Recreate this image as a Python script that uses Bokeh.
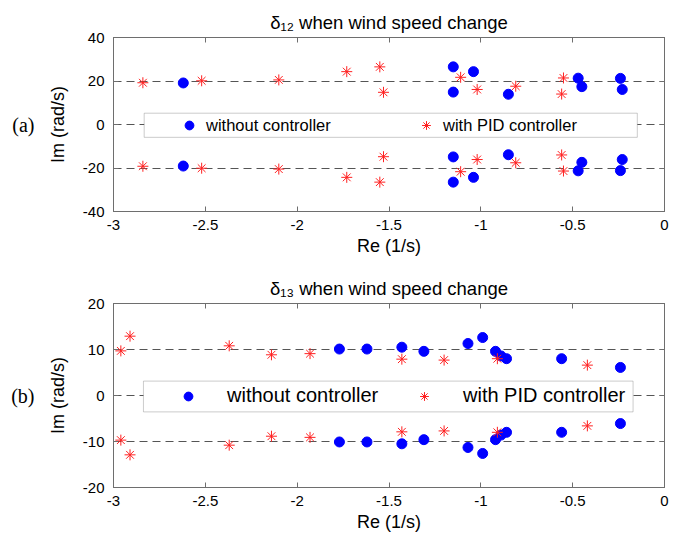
from bokeh.plotting import figure
from bokeh.layouts import column
from bokeh.models import (FixedTicker, CustomJSTickFormatter, Legend, LegendItem,
                          BoxAnnotation, LinearAxis, Range1d)
from bokeh.embed import file_html
from bokeh.resources import INLINE

# ---------------- data (conjugate pairs: real part, |imag part|) ----------------
# (a) delta_12
a_without_re = [-2.62, -1.15, -1.15, -1.04, -0.85, -0.47, -0.45, -0.24, -0.23]
a_without_im = [19.1, 26.5, 14.9, 24.3, 13.9, 21.3, 17.4, 21.2, 16.1]
a_pid_re = [-2.84, -2.52, -2.10, -1.73, -1.55, -1.53, -1.11, -1.02, -0.81, -0.55, -0.56]
a_pid_im = [19.2, 20.1, 20.5, 24.3, 26.5, 14.8, 21.7, 16.1, 17.6, 21.4, 14.0]

# (b) delta_13
b_without_re = [-1.77, -1.62, -1.43, -1.31, -1.07, -0.99, -0.92, -0.89, -0.86, -0.56, -0.24]
b_without_im = [10.1, 10.1, 10.5, 9.6, 11.3, 12.6, 9.6, 8.6, 8.0, 8.0, 6.1]
b_pid_re = [-2.96, -2.91, -2.37, -2.14, -1.93, -1.43, -1.20, -0.91, -0.42]
b_pid_im = [9.7, 12.9, 10.8, 8.85, 9.1, 7.9, 7.7, 8.0, 6.6]

x_ticks = [-3, -2.5, -2, -1.5, -1, -0.5, 0]
a_y_ticks = [-40, -20, 0, 20, 40]
b_y_ticks = [-20, -10, 0, 10, 20]

titles = ["\u03b4\u2081\u2082 when wind speed change", "\u03b4\u2081\u2083 when wind speed change"]
panel_tags = ["(a)", "(b)"]
legend_labels = ["without controller", "with PID controller"]

FONT = "Liberation Sans"
AX_COL = "#6e6e6e"


def conj(re, im):
    return list(re) + list(re), list(im) + [-v for v in im]


def make_panel(title, tag, wre, wim, pre, pim, yticks, height, top, bottom, title_lift,
               leg_font, leg_standoff, leg_lw, leg_spacing, leg_loc, box):
    p = figure(width=680, height=height, output_backend="svg", toolbar_location=None,
               x_range=Range1d(-3, 0), y_range=Range1d(yticks[0], yticks[-1]),
               min_border_left=113, min_border_right=16, min_border_top=top,
               min_border_bottom=bottom)
    p.title.text = title
    p.title.text_font = FONT
    p.title.text_font_size = "18.5px"
    p.title.text_font_style = "normal"
    p.title.align = "center"
    p.title.text_color = "black"

    p.outline_line_color = AX_COL
    p.xgrid.visible = False
    p.ygrid.ticker = FixedTicker(ticks=yticks)
    p.ygrid.grid_line_color = "#555555"
    p.ygrid.grid_line_dash = "8 5"
    p.ygrid.grid_line_width = 1

    fmt = CustomJSTickFormatter(code="return tick.toString();")
    for ax in p.xaxis:
        ax.ticker = FixedTicker(ticks=x_ticks)
        ax.formatter = fmt
        ax.axis_label = "Re (1/s)"
        ax.major_label_standoff = 8
        ax.axis_label_standoff = 3
    for ax in p.yaxis:
        ax.ticker = FixedTicker(ticks=yticks)
        ax.formatter = fmt
        ax.axis_label = "Im (rad/s)"
        ax.major_label_standoff = 9
        ax.axis_label_standoff = 12
    for ax in list(p.xaxis) + list(p.yaxis):
        ax.axis_line_color = AX_COL
        ax.major_tick_line_color = AX_COL
        ax.major_tick_in = 5
        ax.major_tick_out = 0
        ax.minor_tick_line_color = None
        ax.major_label_text_font = FONT
        ax.major_label_text_font_size = "15px"
        ax.major_label_text_color = "black"
        ax.axis_label_text_font = FONT
        ax.axis_label_text_font_size = "18px"
        ax.axis_label_text_font_style = "normal"
        ax.axis_label_text_color = "black"

    # panel tag "(a)" / "(b)" as a tick label of an extra outer left axis at y = 0
    tag_axis = LinearAxis(ticker=FixedTicker(ticks=[0]),
                          formatter=CustomJSTickFormatter(code="return '%s';" % tag),
                          axis_line_color=None, major_tick_line_color=None,
                          minor_tick_line_color=None, major_tick_in=0, major_tick_out=0,
                          major_label_standoff=10, major_label_text_font="Liberation Serif",
                          major_label_text_font_size="20px", major_label_text_color="black")
    p.add_layout(tag_axis, "left")

    # mirrored ticks on top and right (box style)
    for side, tk, so in (("above", x_ticks, title_lift), ("right", yticks, 0)):
        ax = LinearAxis(ticker=FixedTicker(ticks=tk),
                        formatter=CustomJSTickFormatter(code="return '';"),
                        major_label_standoff=so, major_tick_in=5, major_tick_out=0,
                        minor_tick_line_color=None, axis_line_color=AX_COL,
                        major_tick_line_color=AX_COL)
        p.add_layout(ax, side)

    # legend frame
    p.add_layout(BoxAnnotation(left=box[0], right=box[1], bottom=box[2], top=box[3],
                               fill_color="white", fill_alpha=1.0,
                               line_color="#555555", line_width=1))

    wx, wy = conj(wre, wim)
    px, py = conj(pre, pim)
    r1 = p.scatter(wx, wy, marker="circle", size=10, fill_color="#0000ff",
                   line_color="#0000ff")
    r2 = p.scatter(px, py, marker="asterisk", size=11, line_color="#ff2020",
                   line_width=1)

    leg = Legend(items=[LegendItem(label=legend_labels[0], renderers=[r1]),
                        LegendItem(label=legend_labels[1], renderers=[r2])],
                 orientation="horizontal", location=leg_loc,
                 glyph_width=22, glyph_height=22, label_height=22,
                 label_width=leg_lw, label_standoff=leg_standoff,
                 spacing=leg_spacing, padding=0, margin=0,
                 border_line_alpha=0, background_fill_alpha=0,
                 label_text_font=FONT, label_text_font_size=leg_font,
                 label_text_color="black")
    p.add_layout(leg, "center")
    return p


p1 = make_panel(titles[0], panel_tags[0], a_without_re, a_without_im, a_pid_re, a_pid_im,
                a_y_ticks, 261, 37, 50, 3, "16.5px", 6, 150, 59, (65, 75),
                (-2.833, -0.148, -5.9, 5.2))
p2 = make_panel(titles[1], panel_tags[1], b_without_re, b_without_im, b_pid_re, b_pid_im,
                b_y_ticks, 276, 42, 50, 10, "20px", 28, 168, 18, (64, 80),
                (-2.837, -0.171, -3.56, 3.13))

layout = column(p1, p2, spacing=0)
open("out.html", "w").write(file_html(layout, INLINE))
